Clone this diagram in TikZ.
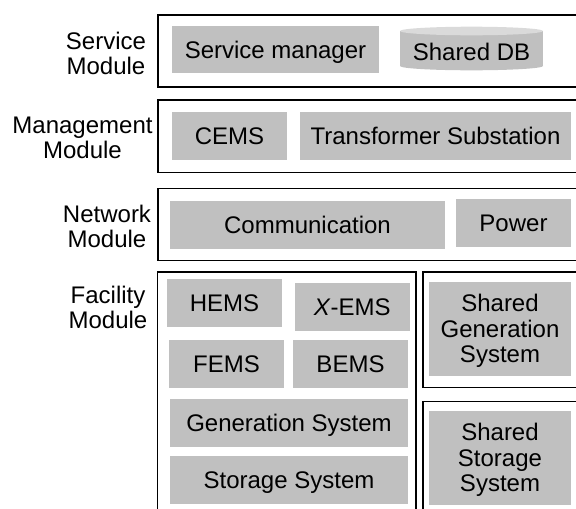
\documentclass[tikz,border=0pt]{standalone}
\usepackage{fontspec}
\setmainfont{Liberation Sans}
\definecolor{boxgray}{HTML}{C0C0C0}
\definecolor{dbtop}{HTML}{DADADA}
\tikzset{
  frame/.style={draw=black, line width=1.3pt, rectangle, inner sep=0pt, outer sep=0pt, anchor=north west},
  gbox/.style={fill=boxgray, rectangle, inner sep=0pt, outer sep=0pt, text height=17.2pt, text depth=0pt},
  gfill/.style={fill=boxgray, rectangle, inner sep=0pt, outer sep=0pt},
  lbl/.style={align=center, inner sep=0pt},
}
\begin{document}
\begin{tikzpicture}[x=1pt,y=-1pt, font=\fontsize{24}{25.5}\selectfont]
\useasboundingbox (0,0) rectangle (576,509);
\clip (0,0) rectangle (576,509);

% module frames
\node[frame, minimum width=420pt, minimum height=72pt] (svc) at (158,15) {};
\node[frame, minimum width=420pt, minimum height=72.5pt] (mgmt) at (158,100) {};
\node[frame, minimum width=420pt, minimum height=72pt] (net) at (158,188.5) {};
\node[frame, minimum width=258.5pt, minimum height=250pt] (fac) at (157.5,272) {};
\node[frame, minimum width=155pt, minimum height=115.5pt] (sgf) at (423,272) {};
\node[frame, minimum width=155pt, minimum height=120pt] (ssf) at (423,401.5) {};

% labels
\node[lbl] (lsvc) at (106,53.5) {Service\\Module};
\node[lbl] (lmgmt) at (82.5,138) {Management\\Module};
\node[lbl] (lnet) at (107,226.5) {Network\\Module};
\node[lbl] (lfac) at (108,307.3) {Facility\\Module};

% service module
\node[gbox, minimum width=207pt, minimum height=47pt] (sm) at (275.5,49.5) {Service manager};
\fill[boxgray] (400,31) rectangle (543,66);
\fill[boxgray] (471.5,66) ellipse [x radius=71.5, y radius=4.3];
\fill[dbtop] (471.5,31) ellipse [x radius=71.5, y radius=4.3];
\node[lbl, text height=17.2pt, text depth=0pt] (db) at (471.5,52) {Shared DB};

% management module
\node[gbox, minimum width=115pt, minimum height=47.5pt] (cems) at (229.5,135.75) {CEMS};
\node[gbox, minimum width=271pt, minimum height=47.5pt] (ts) at (435.5,135.75) {Transformer Substation};

% network module
\node[gbox, minimum width=275pt, minimum height=48pt] (comm) at (307.5,225) {Communication};
\node[gbox, minimum width=115pt, minimum height=48pt] (power) at (513.5,223) {Power};

% facility module
\node[gbox, minimum width=115pt, minimum height=48pt] (hems) at (224.5,303) {HEMS};
\node[gbox, minimum width=114.5pt, minimum height=48pt] (xems) at (352.25,307) {\textit{X}-EMS};
\node[gbox, minimum width=115pt, minimum height=48pt] (fems) at (226.5,364) {FEMS};
\node[gbox, minimum width=115pt, minimum height=48pt] (bems) at (350.5,364) {BEMS};
\node[gbox, minimum width=238pt, minimum height=48pt] (gen) at (289,423) {Generation System};
\node[gbox, minimum width=238pt, minimum height=48pt] (stor) at (289,480) {Storage System};

% shared systems
\node[gfill, minimum width=142pt, minimum height=94.5pt] (sgs) at (500,328.75) {};
\node[lbl] (sgstxt) at (500,331.25) {Shared\\Generation\\System};
\node[gfill, minimum width=142pt, minimum height=93.8pt] (sss) at (500,457.6) {};
\node[lbl] (ssstxt) at (500,460.1) {Shared\\Storage\\System};
\end{tikzpicture}
\end{document}
